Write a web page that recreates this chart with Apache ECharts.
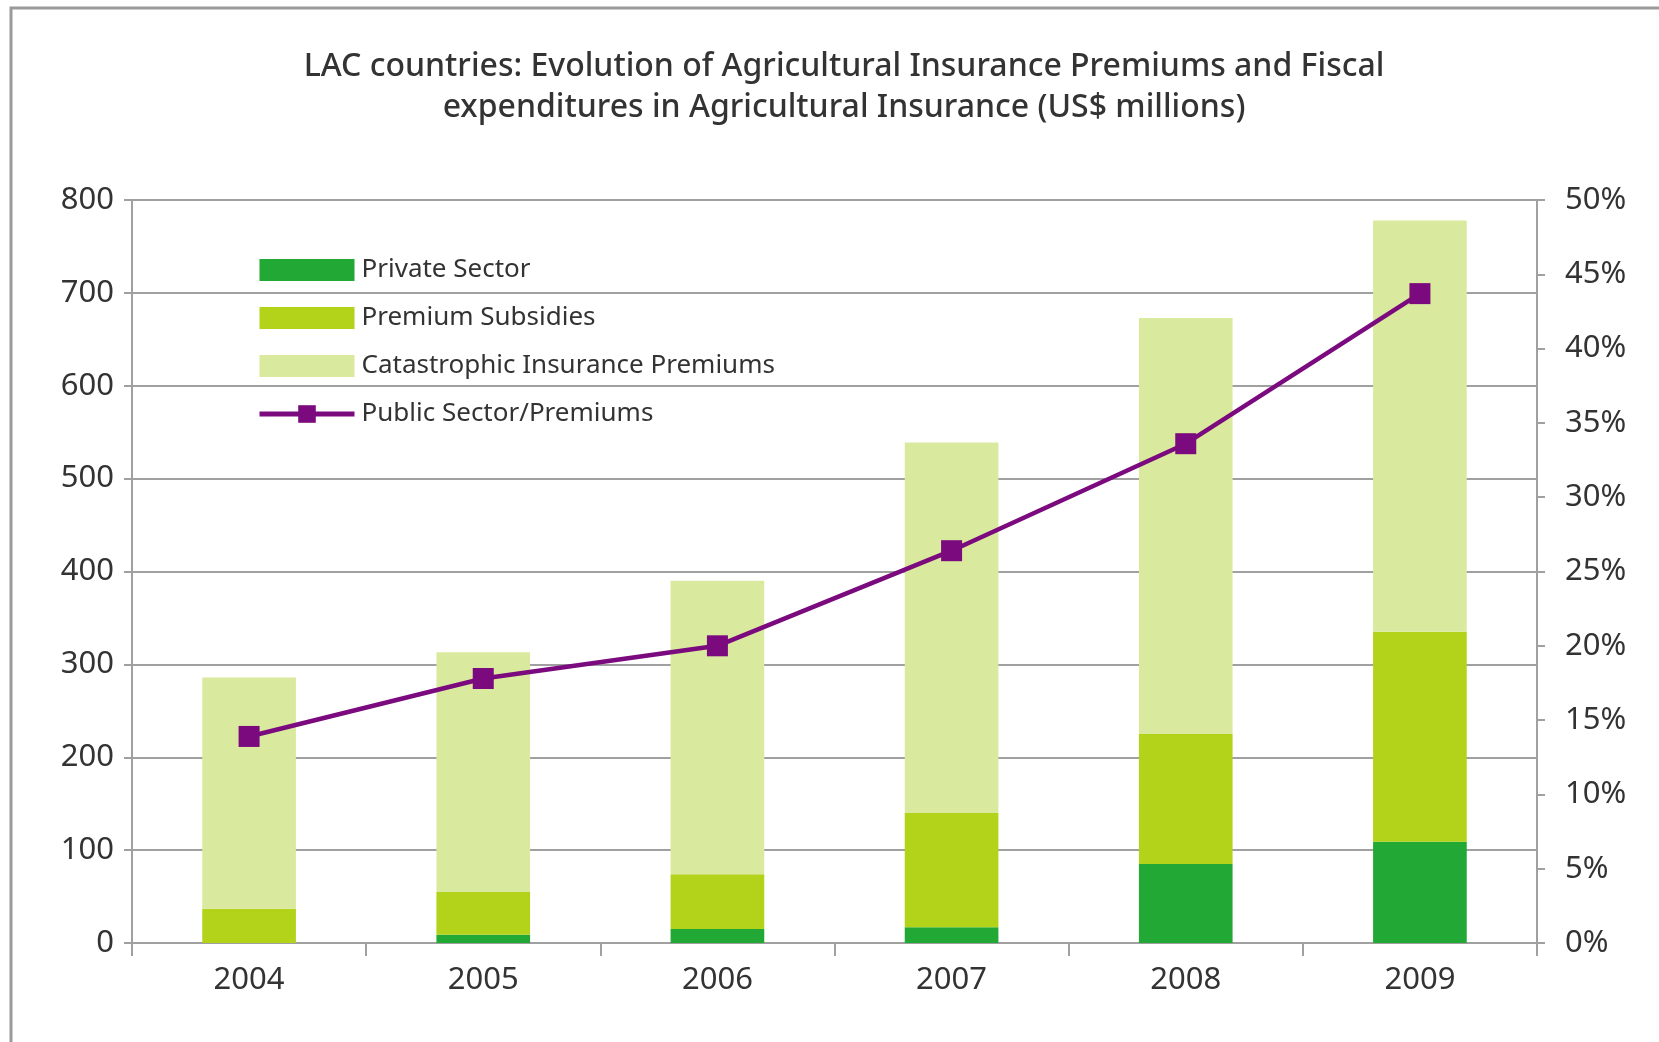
<!DOCTYPE html>
<html>
<head>
<meta charset="utf-8">
<script src="https://cdn.jsdelivr.net/npm/echarts@6/dist/echarts.min.js"></script>
<style>
  html, body { margin: 0; padding: 0; background: #fff; }
  #chart { width: 1659px; height: 1042px; }
</style>
</head>
<body>
<div id="chart"></div>
<script>
const years = ['2004', '2005', '2006', '2007', '2008', '2009']
const privateSector = [0, 9, 15, 17, 85, 109]
const premiumSubsidies = [37, 46, 59, 123, 140, 226]
const catastrophic = [249, 258, 316, 399, 448, 443]
const publicShare = [13.9, 17.8, 20.0, 26.4, 33.6, 43.7]

const font = '"Noto Sans", "Open Sans", sans-serif'
const textColor = '#333'
const gridColor = '#a0a0a0'
const purple = '#7b0a7e'

const chart = echarts.init(document.getElementById('chart'))

const barSeries = (name, data, color) => ({
  name,
  type: 'bar',
  stack: 'total',
  yAxisIndex: 0,
  barWidth: '40%',
  itemStyle: { color },
  data
})

chart.setOption({
  animation: false,
  textStyle: { fontFamily: font },
  title: {
    text: 'LAC countries: Evolution of Agricultural Insurance Premiums and Fiscal\nexpenditures in Agricultural Insurance (US$ millions)',
    left: 839,
    textAlign: 'center',
    top: 41,
    textStyle: {
      fontFamily: font,
      fontSize: 32,
      fontWeight: 500,
      color: textColor,
      lineHeight: 41
    }
  },
  graphic: [{
    type: 'rect',
    shape: { x: 11, y: 8, width: 1700, height: 1100 },
    style: { fill: 'none', stroke: '#9a9a9a', lineWidth: 3 },
    silent: true
  }],
  legend: {
    orient: 'vertical',
    left: 252,
    top: 252,
    itemWidth: 95,
    itemHeight: 22,
    itemGap: 22,
    data: [
      { name: 'Private Sector', icon: 'rect' },
      { name: 'Premium Subsidies', icon: 'rect' },
      { name: 'Catastrophic Insurance Premiums', icon: 'rect' },
      { name: 'Public Sector/Premiums', lineStyle: { width: 5 } }
    ],
    textStyle: { fontFamily: font, fontSize: 26, color: textColor, padding: [0, 0, 0, 2] }
  },
  grid: { left: 132, right: 122, top: 200, bottom: 99 },
  xAxis: {
    type: 'category',
    data: years,
    axisLine: { lineStyle: { color: gridColor, width: 2 } },
    axisTick: { show: true, length: 13, lineStyle: { color: gridColor, width: 2 } },
    axisLabel: { fontSize: 31, color: textColor, margin: 22 }
  },
  yAxis: [{
    type: 'value',
    min: 0,
    max: 800,
    interval: 100,
    axisLine: { show: true, lineStyle: { color: gridColor, width: 2 } },
    axisTick: { show: true, length: 8, lineStyle: { color: gridColor, width: 2 } },
    axisLabel: { fontSize: 31, color: textColor, margin: 18 },
    splitLine: { lineStyle: { color: gridColor, width: 2 } }
  }, {
    type: 'value',
    min: 0,
    max: 50,
    interval: 5,
    position: 'right',
    axisLine: { show: true, lineStyle: { color: gridColor, width: 2 } },
    axisTick: { show: true, length: 8, lineStyle: { color: gridColor, width: 2 } },
    axisLabel: { fontSize: 31, color: textColor, margin: 28, formatter: '{value}%' },
    splitLine: { show: false }
  }],
  series: [
    barSeries('Private Sector', privateSector, '#22a834'),
    barSeries('Premium Subsidies', premiumSubsidies, '#b2d31a'),
    barSeries('Catastrophic Insurance Premiums', catastrophic, '#d9ea9e'),
    {
      name: 'Public Sector/Premiums',
      type: 'line',
      yAxisIndex: 1,
      data: publicShare,
      symbol: 'rect',
      symbolSize: 21,
      lineStyle: { color: purple, width: 4.5 },
      itemStyle: { color: purple },
      z: 5
    }
  ]
})
</script>
</body>
</html>
